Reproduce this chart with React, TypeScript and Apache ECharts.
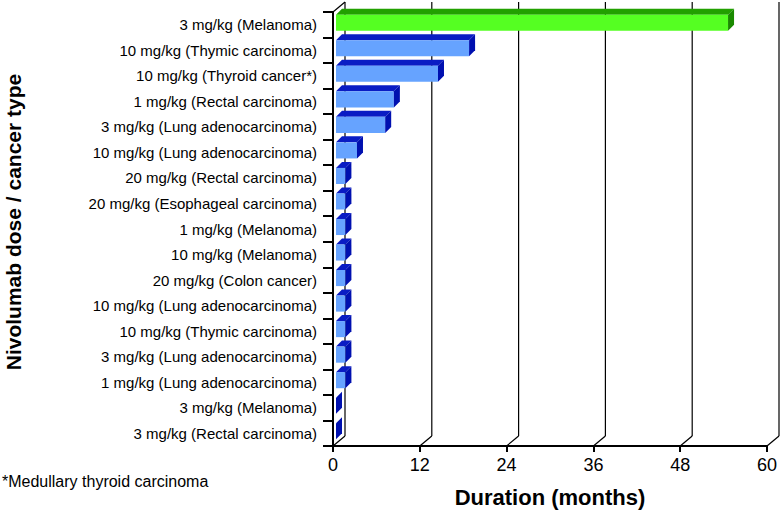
import React, { useEffect, useRef } from "react";
import * as echarts from "echarts";

const categories = [
  "3 mg/kg (Melanoma)",
  "10 mg/kg (Thymic carcinoma)",
  "10 mg/kg (Thyroid cancer*)",
  "1 mg/kg (Rectal carcinoma)",
  "3 mg/kg (Lung adenocarcinoma)",
  "10 mg/kg (Lung adenocarcinoma)",
  "20 mg/kg (Rectal carcinoma)",
  "20 mg/kg (Esophageal carcinoma)",
  "1 mg/kg (Melanoma)",
  "10 mg/kg (Melanoma)",
  "20 mg/kg (Colon cancer)",
  "10 mg/kg (Lung adenocarcinoma)",
  "10 mg/kg (Thymic carcinoma)",
  "3 mg/kg (Lung adenocarcinoma)",
  "1 mg/kg (Lung adenocarcinoma)",
  "3 mg/kg (Melanoma)",
  "3 mg/kg (Rectal carcinoma)",
];

const durations = [54.2, 18.4, 14.1, 8.0, 6.8, 2.9, 1.3, 1.3, 1.3, 1.3, 1.3, 1.3, 1.3, 1.3, 1.3, 0, 0];

const xTicks = [0, 12, 24, 36, 48, 60];

const xTitle = "Duration (months)";
const yTitle = "Nivolumab dose / cancer type";
const footnote = "*Medullary thyroid carcinoma";

const HIGHLIGHT_INDEX = 0;
const FONT = "'Liberation Sans', Arial, Helvetica, sans-serif";

export default function App() {
  const ref = useRef<HTMLDivElement>(null);

  useEffect(() => {
    if (!ref.current) return;
    const chart = echarts.init(ref.current, null, { renderer: "svg" });

    const DEPTH_X = 12;
    const DEPTH_Y = -10;

    const frameRender = (params: any, api: any) => {
      const v = api.value(0);
      const cs = params.coordSys;
      const p = api.coord([v, 0]);
      const x = p[0];
      const top = cs.y;
      const bottom = cs.y + cs.height;
      const style = { stroke: "#000", lineWidth: 1.2, fill: null };
      const children: any[] = [
        {
          type: "line",
          shape: { x1: x + DEPTH_X, y1: top + DEPTH_Y, x2: x + DEPTH_X, y2: bottom + DEPTH_Y },
          style,
        },
        {
          type: "line",
          shape: { x1: x, y1: bottom, x2: x + DEPTH_X, y2: bottom + DEPTH_Y },
          style,
        },
      ];
      if (v === 0) {
        children.push({
          type: "line",
          shape: { x1: x, y1: top, x2: x + DEPTH_X, y2: top + DEPTH_Y },
          style,
        });
      }
      return { type: "group", children };
    };

    const barRender = (params: any, api: any) => {
      const v = api.value(0);
      const i = api.value(1);
      const p0 = api.coord([0, i]);
      const p1 = api.coord([v, i]);
      const band = api.size([0, 1])[1];
      const h = band * 0.63;
      const ox = 3, oy = -2;
      const dx = 6, dy = -6;
      const L = p0[0] + ox;
      const R = p1[0] + ox;
      const T = p0[1] - h / 2 + oy;
      const B = p0[1] + h / 2 + oy;
      const hi = i === HIGHLIGHT_INDEX;
      const front = hi ? "#55ff22" : "#66a3ff";
      const dark = hi ? "#22a000" : "#0a1cc4";
      const side = hi ? "#1a8a00" : "#0010b0";
      const children: any[] = [];
      if (R - L > 0.1) {
        children.push({
          type: "polygon",
          shape: { points: [[L, T], [R, T], [R + dx, T + dy], [L + dx, T + dy]] },
          style: { fill: dark },
        });
        children.push({
          type: "rect",
          shape: { x: L, y: T, width: R - L, height: B - T },
          style: { fill: front },
        });
      }
      children.push({
        type: "polygon",
        shape: { points: [[R, T], [R + dx, T + dy], [R + dx, B + dy], [R, B]] },
        style: { fill: side },
      });
      return { type: "group", children };
    };

    const option: any = {
      animation: false,
      backgroundColor: "#ffffff",
      grid: { left: 333, right: 15, top: 12, bottom: 69, containLabel: false },
      xAxis: {
        type: "value",
        min: 0,
        max: 60,
        interval: 12,
        splitLine: { show: false },
        axisLine: { show: true, lineStyle: { color: "#000", width: 2 } },
        axisTick: { show: true, length: 6, lineStyle: { color: "#000", width: 2 } },
        axisLabel: { color: "#000", fontSize: 18, fontFamily: FONT, margin: 10 },
        name: xTitle,
        nameLocation: "middle",
        nameGap: 40,
        nameTextStyle: { color: "#000", fontSize: 22, fontWeight: "bold", fontFamily: FONT },
      },
      yAxis: {
        type: "category",
        data: categories,
        inverse: true,
        axisLine: { show: true, lineStyle: { color: "#000", width: 2 } },
        axisTick: { show: true, length: 10, alignWithLabel: false, lineStyle: { color: "#000", width: 2 } },
        axisLabel: { color: "#000", fontSize: 15, fontFamily: FONT, margin: 16 },
        splitLine: { show: false },
      },
      graphic: [
        {
          type: "text",
          x: 13,
          y: 222,
          rotation: Math.PI / 2,
          style: {
            text: yTitle,
            fill: "#000",
            font: `bold 21px ${FONT}`,
            align: "center",
            verticalAlign: "middle",
          },
        },
        {
          type: "text",
          x: 2,
          y: 481,
          style: {
            text: footnote,
            fill: "#000",
            font: `16px ${FONT}`,
            align: "left",
            verticalAlign: "middle",
          },
        },
      ],
      series: [
        {
          type: "custom",
          name: "frame",
          z: 1,
          silent: true,
          renderItem: frameRender,
          data: xTicks.map((t) => [t]),
          encode: { x: 0 },
          clip: false,
        },
        {
          type: "custom",
          name: "duration",
          z: 3,
          renderItem: barRender,
          data: durations.map((d, i) => [d, i]),
          encode: { x: 0, y: 1 },
          clip: false,
        },
      ],
    };

    chart.setOption(option);
    return () => chart.dispose();
  }, []);

  return (
    <div
      ref={ref}
      style={{ position: "fixed", left: 0, top: 0, width: 782, height: 515, background: "#fff" }}
    />
  );
}
